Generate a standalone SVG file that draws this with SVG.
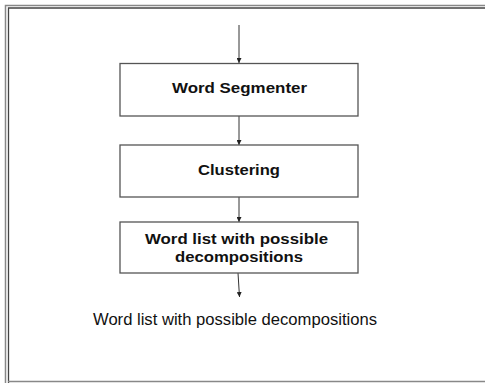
<svg xmlns="http://www.w3.org/2000/svg" width="485" height="383" viewBox="0 0 485 383">
<style>
.box{fill:#fff;stroke:#555;stroke-width:1.3}
.lbl{font-family:"Liberation Sans",Arial,sans-serif;font-weight:bold;font-size:15px;fill:#111;text-anchor:middle}
.out{font-family:"Liberation Sans",Arial,sans-serif;font-size:16px;fill:#111;text-anchor:middle}
.con{stroke:#333;stroke-width:1;fill:none;marker-end:url(#ah)}
</style>
<defs>
<marker id="ah" viewBox="0 0 6 6" refX="6" refY="3" markerWidth="5" markerHeight="5" orient="auto" markerUnits="userSpaceOnUse">
<path d="M0,0 L6,3 L0,6 Z" fill="#222"/>
</marker>
</defs>
<rect width="485" height="383" fill="#fff"/>
<g id="frame" fill="none">
<path d="M5.5,383 V5.5 H485" stroke="#888" stroke-width="1.5"/>
<path d="M8.5,383 V8 H485" stroke="#444" stroke-width="1.3"/>
<path d="M8,381.5 H485" stroke="#888" stroke-width="1.5"/>
</g>
<g id="connectors">
<line class="con" x1="239" y1="25" x2="239" y2="63"/>
<line class="con" x1="239" y1="116" x2="239" y2="145"/>
<line class="con" x1="239" y1="197" x2="239" y2="222"/>
<line class="con" x1="238" y1="273" x2="239.5" y2="297"/>
</g>
<g id="n1"><rect class="box" x="120" y="63.5" width="238" height="52.5"/>
<text class="lbl" x="239.5" y="93" textLength="135" lengthAdjust="spacingAndGlyphs">Word Segmenter</text></g>
<g id="n2"><rect class="box" x="120" y="145" width="238" height="52"/>
<text class="lbl" x="239" y="175" textLength="82" lengthAdjust="spacingAndGlyphs">Clustering</text></g>
<g id="n3"><rect class="box" x="120" y="222" width="238" height="51"/>
<text class="lbl" x="236.5" y="244" textLength="183" lengthAdjust="spacingAndGlyphs">Word list with possible</text>
<text class="lbl" x="239" y="262" textLength="128" lengthAdjust="spacingAndGlyphs">decompositions</text></g>
<g id="n4"><text class="out" x="235" y="325" textLength="284" lengthAdjust="spacingAndGlyphs">Word list with possible decompositions</text></g>
</svg>
